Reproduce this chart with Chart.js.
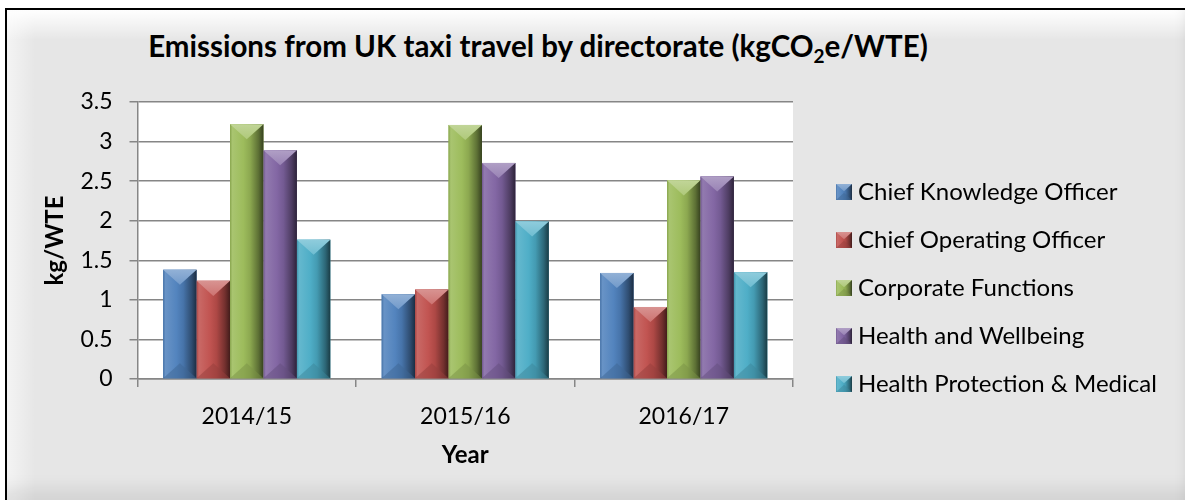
<!DOCTYPE html>
<html>
<head>
<meta charset="utf-8">
<script src="https://cdn.jsdelivr.net/npm/chart.js@4.4.1/dist/chart.umd.min.js"></script>
<style>
  html, body { margin: 0; padding: 0; background: #fff; width: 1185px; height: 500px; overflow: hidden; }
  #frame {
    position: absolute; left: 5px; top: 8px; width: 1192px; height: 500px;
    border-left: 2px solid #000; border-top: 2px solid #000;
    background:
      linear-gradient(to bottom, #ffffff 0px, rgba(255,255,255,0) 30px),
      linear-gradient(to right, rgba(255,255,255,0.55) 0px, rgba(255,255,255,0) 28px),
      #e6e6e6;
    box-shadow: inset -22px 0 14px -10px rgba(0,0,0,0.10), inset 0 -34px 16px -12px rgba(0,0,0,0.08);
  }
  #title {
    position: absolute; left: 0; top: 28px; width: 1076px; text-align: center;
    font: bold 29.5px Lato, sans-serif; color: #000; white-space: nowrap;
  }
  #title sub { font-size: 19px; vertical-align: -6px; line-height: 0; }
  #chart { position: absolute; left: 0; top: 0; }
  #legend {
    position: absolute; left: 836px; top: 167px; margin: 0; padding: 0; list-style: none;
    font: 24px Lato, sans-serif; color: #000; white-space: nowrap;
  }
  #legend li { height: 48px; line-height: 48px; display: flex; align-items: center; }
  #legend canvas { margin-right: 6px; margin-top: 1px; }
</style>
</head>
<body>
<div id="frame"></div>
<div id="title">Emissions from UK taxi travel by directorate (kgCO<sub>2</sub>e/WTE)</div>
<canvas id="chart" width="1185" height="500"></canvas>
<ul id="legend"></ul>
<script>
const years = ["2014/15", "2015/16", "2016/17"];
const directorates = [
  "Chief Knowledge Officer",
  "Chief Operating Officer",
  "Corporate Functions",
  "Health and Wellbeing",
  "Health Protection & Medical",
];
const chiefKnowledge = [1.38, 1.07, 1.34];
const chiefOperating = [1.24, 1.13, 0.91];
const corporateFunctions = [3.22, 3.21, 2.51];
const healthWellbeing = [2.89, 2.73, 2.56];
const healthProtection = [1.76, 1.99, 1.35];
const colours = ["#4F81BD", "#C0504D", "#9BBB59", "#8064A2", "#4BACC6"];

const FONT = "Lato, sans-serif";

// mix a hex colour toward white (t > 0) or black (t < 0)
function shade(hex, t) {
  const n = parseInt(hex.slice(1), 16);
  let r = (n >> 16) & 255, g = (n >> 8) & 255, b = n & 255;
  const target = t > 0 ? 255 : 0;
  const k = Math.abs(t);
  r = Math.round(r + (target - r) * k);
  g = Math.round(g + (target - g) * k);
  b = Math.round(b + (target - b) * k);
  return `rgb(${r},${g},${b})`;
}

// bevelled ridge look: side facets as a horizontal gradient, light top facet, dark bottom facet
function drawBevel(ctx, l, t, w, h, col) {
  if (h <= 0) return;
  const r = l + w, b = t + h, cx = l + w / 2;
  const g = ctx.createLinearGradient(l, 0, r, 0);
  g.addColorStop(0, shade(col, -0.12));
  g.addColorStop(0.07, shade(col, 0.14));
  g.addColorStop(0.4, shade(col, 0.02));
  g.addColorStop(0.6, shade(col, -0.1));
  g.addColorStop(0.85, shade(col, -0.4));
  g.addColorStop(1, shade(col, -0.65));
  ctx.fillStyle = g;
  ctx.fillRect(l, t, w, h);

  const d = Math.min(w * 0.45, h / 2);
  const tg = ctx.createLinearGradient(0, t, 0, t + d);
  tg.addColorStop(0, shade(col, 0.38));
  tg.addColorStop(1, shade(col, 0.2));
  ctx.fillStyle = tg;
  ctx.beginPath();
  ctx.moveTo(l, t); ctx.lineTo(r, t); ctx.lineTo(cx, t + d); ctx.closePath();
  ctx.fill();

  ctx.fillStyle = shade(col, -0.22);
  ctx.globalAlpha = 0.5;
  ctx.beginPath();
  ctx.moveTo(l, b); ctx.lineTo(r, b); ctx.lineTo(cx, b - d); ctx.closePath();
  ctx.fill();
  ctx.globalAlpha = 1;
}

function legendMarker(col) {
  const c = document.createElement("canvas");
  c.width = 16; c.height = 16;
  drawBevel(c.getContext("2d"), 0, 0, 16, 16, col);
  return c;
}

const plotBackground = {
  id: "plotBackground",
  beforeDraw(chart) {
    const { ctx, chartArea: a } = chart;
    ctx.save();
    ctx.fillStyle = "#ffffff";
    ctx.fillRect(a.left, a.top, a.right - a.left, a.bottom - a.top);
    ctx.restore();
  },
};

const bevelBars = {
  id: "bevelBars",
  afterDatasetsDraw(chart) {
    const ctx = chart.ctx;
    ctx.save();
    chart.data.datasets.forEach((ds, i) => {
      const meta = chart.getDatasetMeta(i);
      meta.data.forEach((bar) => {
        const { x, y, base, width } = bar.getProps(["x", "y", "base", "width"], true);
        const top = Math.min(y, base);
        drawBevel(ctx, x - width / 2, top, width, Math.abs(base - y), colours[i]);
      });
    });
    ctx.restore();
  },
};

const series = [chiefKnowledge, chiefOperating, corporateFunctions, healthWellbeing, healthProtection];

// legend list on the right, built from the same series names and colours
function buildLegend(chart) {
  const ul = document.getElementById("legend");
  chart.data.datasets.forEach((ds, i) => {
    const li = document.createElement("li");
    li.appendChild(legendMarker(colours[i]));
    li.appendChild(document.createTextNode(ds.label));
    ul.appendChild(li);
  });
}

function build() {
  const chart = new Chart(document.getElementById("chart"), {
    type: "bar",
    data: {
      labels: years,
      datasets: series.map((values, i) => ({
        label: directorates[i],
        data: values,
        backgroundColor: colours[i],
        categoryPercentage: 0.765,
        barPercentage: 1.0,
      })),
    },
    options: {
      responsive: false,
      animation: false,
      layout: { padding: { top: 102, left: 30, right: 392, bottom: 29 } },
      scales: {
        x: {
          grid: { offset: true, drawOnChartArea: false, tickLength: 8, color: "#868686", lineWidth: 1.5 },
          border: { color: "#868686", width: 1.5 },
          ticks: { color: "#000", padding: 16, font: { family: FONT, size: 23 } },
          title: {
            display: true, text: "Year", color: "#000",
            font: { family: FONT, size: 24, weight: "bold" },
            padding: { top: -6.2, bottom: 1.8 },
          },
        },
        y: {
          min: 0, max: 3.5,
          ticks: { stepSize: 0.5, color: "#000", padding: 17, font: { family: FONT, size: 23 }, callback: (v) => String(v) },
          grid: { color: "#868686", lineWidth: 1.5, tickLength: 8 },
          border: { color: "#868686", width: 1.5 },
          title: {
            display: true, text: "kg/WTE", color: "#000",
            font: { family: FONT, size: 24, weight: "bold" },
            padding: { top: 10.6, bottom: -6 },
          },
        },
      },
      plugins: {
        legend: { display: false },
        tooltip: { enabled: false },
      },
    },
    plugins: [plotBackground, bevelBars],
  });
  buildLegend(chart);
}

Promise.all([
  document.fonts.load("23px Lato"),
  document.fonts.load("24px Lato"),
  document.fonts.load("bold 24px Lato"),
  document.fonts.load("bold 29.5px Lato"),
]).then(build, build);
</script>
</body>
</html>
